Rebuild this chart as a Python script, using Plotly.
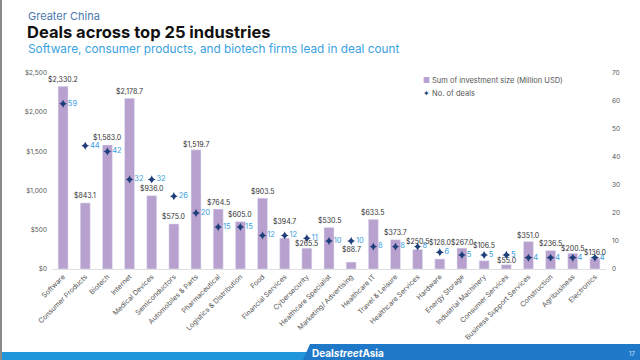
import plotly.graph_objects as go

industries = ["Software", "Consumer Products", "Biotech", "Internet", "Medical Devices",
              "Semiconductors", "Automobiles & Parts", "Pharmaceutical", "Logistics & Distribution",
              "Food", "Financial Services", "Cybersecurity", "Healthcare Specialist",
              "Marketing/ Advertising", "Healthcare IT", "Travel & Leisure", "Healthcare Services",
              "Hardware", "Energy Storage", "Industrial Machinery", "Consumer Services",
              "Business Support Services", "Construction", "Agribusiness", "Electronics"]
investment = [2330.2, 843.1, 1583.0, 2178.7, 936.0, 575.0, 1519.7, 764.5, 605.0, 903.5,
              394.7, 265.5, 530.5, 88.7, 633.5, 373.7, 250.5, 128.0, 267.0, 106.5,
              55.0, 351.0, 236.5, 200.5, 136.0]
deals = [59, 44, 42, 32, 32, 26, 20, 15, 15, 12, 12, 11, 10, 10, 8, 8, 8, 6, 5, 5, 5, 4, 4, 4, 4]

# pixel offsets of the value labels above the bar tops (style only)
label_lift = [7, 7, 7, 7, 7, 7, 5, 7, 7, 7, 17, 5, 7, 13, 7, 7, 8, 16, 6, 15, 4, 6, 6.5, 4.5, 5.5]

W, H = 640, 360
L, R, T, B = 52, 34, 73, 91
PW, PH = W - L - R, H - T - B

def px(x):
    return (x - L) / PW

def py(y):
    return (H - B - y) / PH

FONT = "Inter, Open Sans, sans-serif"
BAR_COLOR = "#b9a1cf"
MARK_COLOR = "#1f3f7a"

fig = go.Figure()
fig.add_trace(go.Bar(
    x=industries, y=investment, name="Sum of investment size (Million USD)",
    marker_color=BAR_COLOR, width=0.45, hoverinfo="x+y",
))
fig.add_trace(go.Scatter(
    x=industries, y=deals, yaxis="y2", name="No. of deals", mode="markers+text",
    marker=dict(symbol="star-diamond", size=6, color=MARK_COLOR),
    text=[str(d) for d in deals], textposition="middle right",
    textfont=dict(size=7.5, color="#3a9ee0", family=FONT), cliponaxis=False,
))

shapes = [
    dict(type="line", xref="paper", yref="paper", x0=px(1), x1=px(1), y0=py(0), y1=py(360),
         line=dict(color="#8a8a8a", width=2)),
    dict(type="rect", xref="paper", yref="paper", x0=px(2), x1=px(640), y0=py(352), y1=py(360),
         fillcolor="#2196db", line=dict(width=0), layer="above"),
    dict(type="path", xref="paper", yref="paper",
         path=f"M {px(303)} {py(360)} L {px(310)} {py(344)} L {px(640)} {py(344)} L {px(640)} {py(360)} Z",
         fillcolor="#1f78c8", line=dict(width=0), layer="above"),
]

annotations = [
    dict(text="Greater China", x=px(26), y=py(15.5), xref="paper", yref="paper", xanchor="left",
         yanchor="middle", showarrow=False, font=dict(size=11, color="#4a78b0", family=FONT)),
    dict(text="<b>Deals across top 25 industries</b>", x=px(25), y=py(32), xref="paper", yref="paper",
         xanchor="left", yanchor="middle", showarrow=False, font=dict(size=16.5, color="#111111", family=FONT)),
    dict(text="Software, consumer products, and biotech firms lead in deal count", x=px(26), y=py(49),
         xref="paper", yref="paper", xanchor="left", yanchor="middle", showarrow=False,
         font=dict(size=11.8, color="#3aa2e0", family=FONT)),
    dict(text="<b>Deal<i>street</i>Asia</b>", x=px(310), y=py(352.5), xref="paper", yref="paper",
         xanchor="left", yanchor="middle", showarrow=False, font=dict(size=10, color="white", family=FONT)),
    dict(text="17", x=px(632), y=py(353), xref="paper", yref="paper", xanchor="center",
         yanchor="middle", showarrow=False, font=dict(size=6, color="#d0e4f5", family=FONT)),
    # legend
    dict(text=f"<span style='color:{BAR_COLOR}'>■</span> Sum of investment size (Million USD)",
         x=px(421), y=py(80.5), xref="paper", yref="paper", xanchor="left", yanchor="middle",
         showarrow=False, font=dict(size=7.5, color="#555555", family=FONT)),
    dict(text=f"<span style='color:{MARK_COLOR}'>✦</span> No. of deals",
         x=px(421), y=py(93.5), xref="paper", yref="paper", xanchor="left", yanchor="middle",
         showarrow=False, font=dict(size=7.5, color="#555555", family=FONT)),
]

for cat, val, lift in zip(industries, investment, label_lift):
    annotations.append(dict(
        text="$" + f"{val:,.1f}", x=cat, y=val, xref="x", yref="y", yanchor="middle",
        xanchor="center", yshift=lift, showarrow=False,
        font=dict(size=7, color="#333333", family=FONT),
    ))

fig.update_layout(
    width=W, height=H, margin=dict(l=L, r=R, t=T, b=B, pad=0),
    paper_bgcolor="white", plot_bgcolor="white",
    font=dict(family=FONT, color="#555555"),
    showlegend=False,
    xaxis=dict(tickangle=-45, tickfont=dict(size=7, color="#555555"), showgrid=False,
               range=[-0.5, len(industries) - 0.5],
               showline=True, linecolor="#e0e0e0", ticks="", automargin=False),
    yaxis=dict(range=[0, 2500], dtick=500, tickprefix="$", tickformat=",", showgrid=False,
               zeroline=False, tickfont=dict(size=6.5, color="#555555"), automargin=False,
               ticklabelstandoff=4),
    yaxis2=dict(range=[0, 70], dtick=10, overlaying="y", side="right", showgrid=False,
                zeroline=False, tickfont=dict(size=6.5, color="#555555"), automargin=False,
                ticklabelstandoff=5),
    shapes=shapes, annotations=annotations, bargap=0.5,
)

fig.write_html("out.html", config={"displayModeBar": False},
               post_script="document.body.style.margin='0';document.body.style.overflow='hidden';")
